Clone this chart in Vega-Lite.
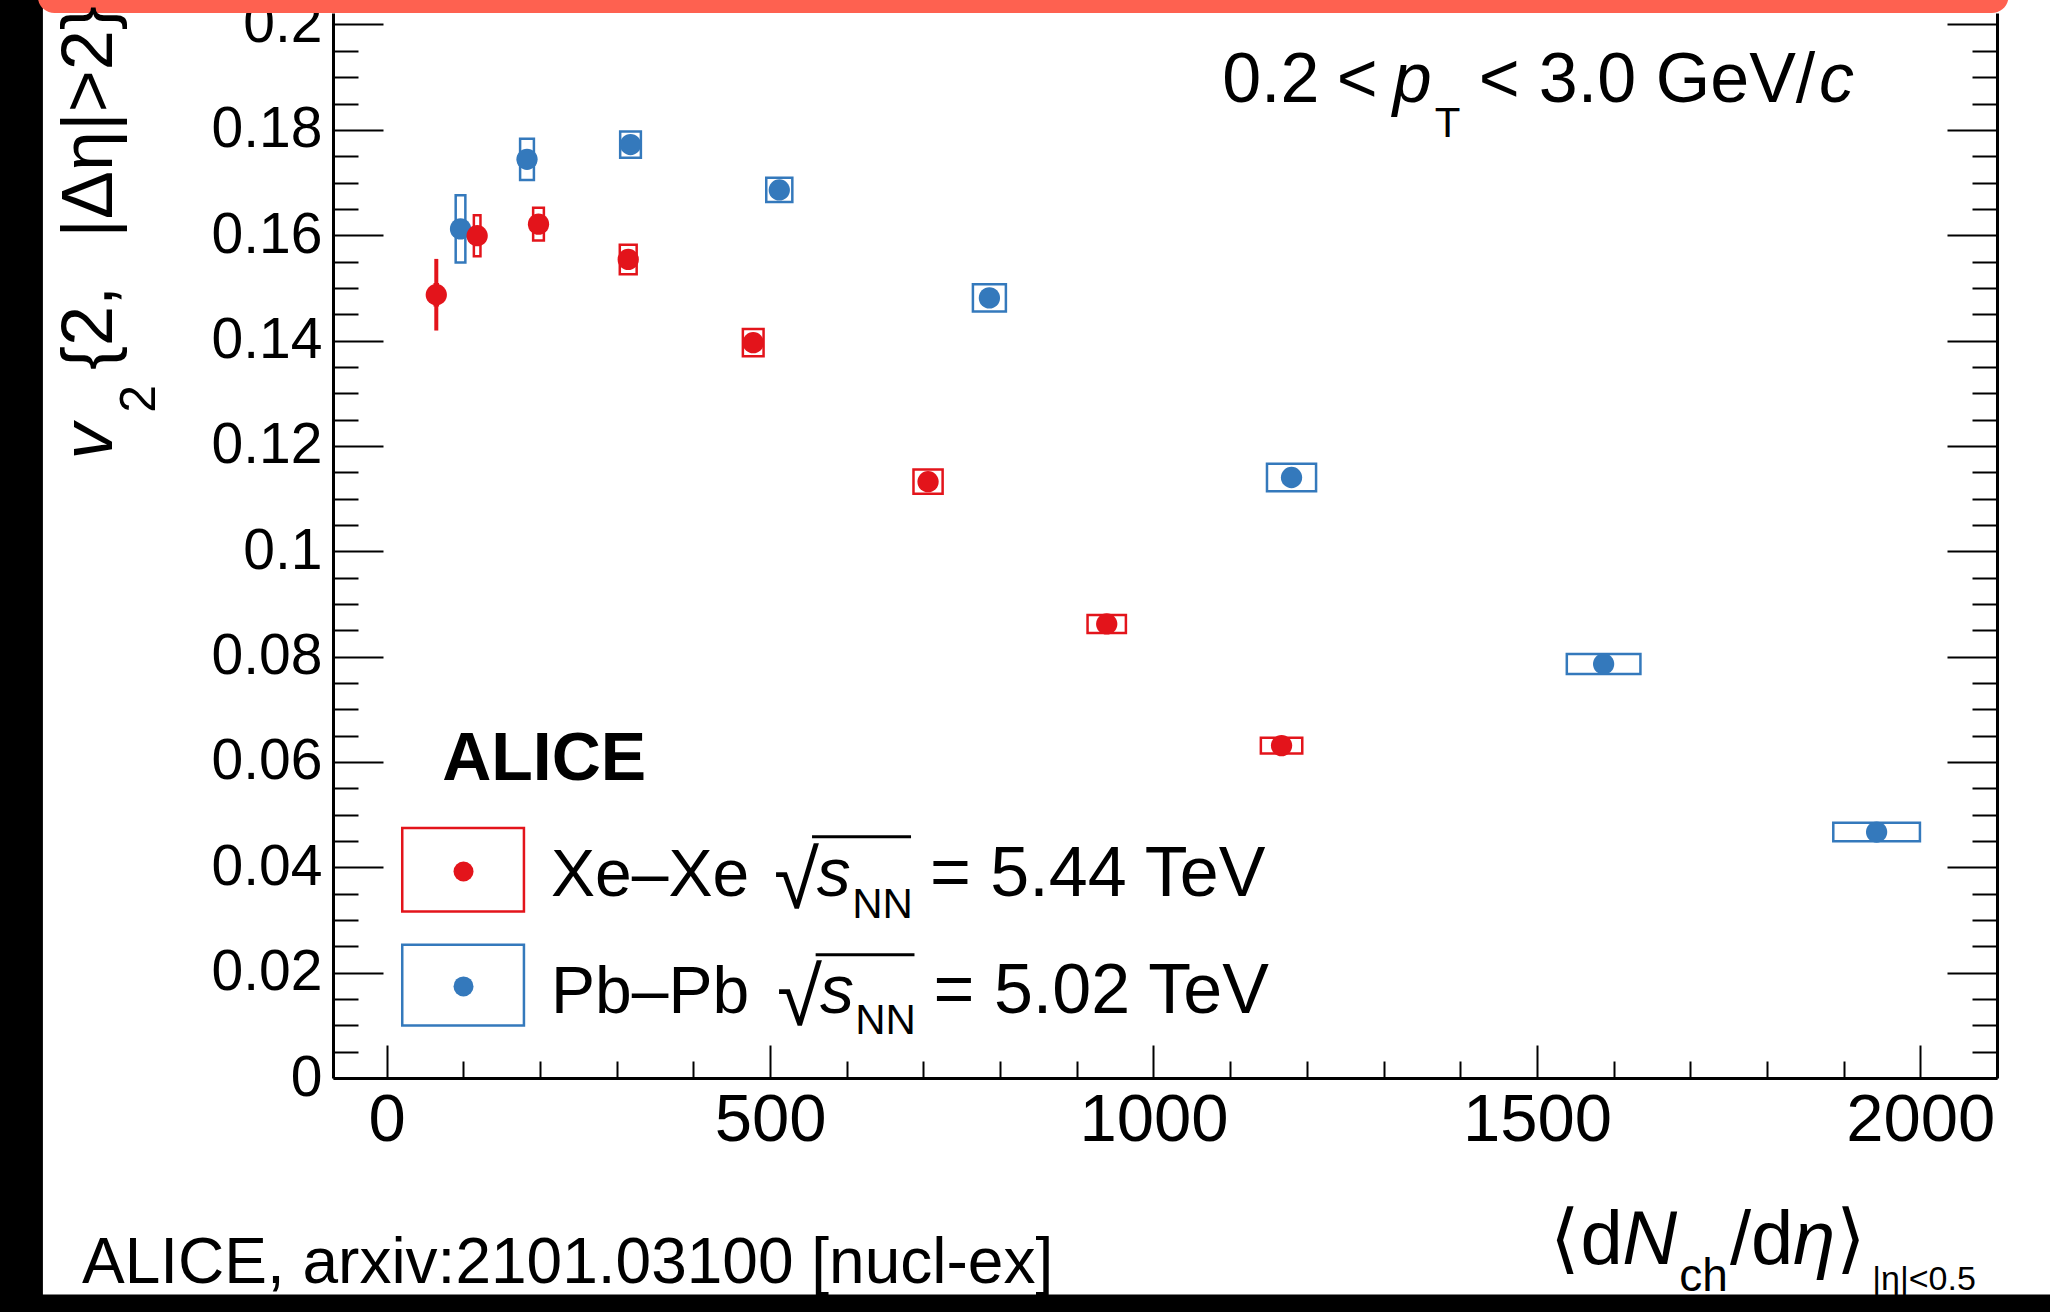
{
  "$schema": "https://vega.github.io/schema/vega-lite/v6.json",
  "width": 1664,
  "height": 1065,
  "autosize": {"type": "none"},
  "padding": {"left": 333, "top": 13, "right": 53, "bottom": 234},
  "background": "white",
  "config": {
    "view": {"stroke": null},
    "axis": {
      "zindex": 1, "grid": false, "domainColor": "black", "tickColor": "black",
      "labelColor": "black", "labelFont": "Liberation Sans", "tickWidth": 2, "domainWidth": 3
    },
    "text": {"font": "Liberation Sans", "color": "black", "align": "left", "baseline": "alphabetic", "clip": false}
  },
  "datasets": {
    "v2": [
      {"system": "Pb–Pb", "dNdeta": 96.3, "dNdeta_lo": 90.0, "dNdeta_hi": 102.6, "v2": 0.1612, "sys_lo": 0.1548, "sys_hi": 0.1676, "stat_lo": 0.1602, "stat_hi": 0.1622},
      {"system": "Pb–Pb", "dNdeta": 183, "dNdeta_lo": 174, "dNdeta_hi": 192, "v2": 0.1744, "sys_lo": 0.1705, "sys_hi": 0.1783, "stat_lo": 0.1734, "stat_hi": 0.1754},
      {"system": "Pb–Pb", "dNdeta": 318, "dNdeta_lo": 304.5, "dNdeta_hi": 331.5, "v2": 0.1772, "sys_lo": 0.1747, "sys_hi": 0.1797, "stat_lo": 0.1764, "stat_hi": 0.178},
      {"system": "Pb–Pb", "dNdeta": 512, "dNdeta_lo": 495, "dNdeta_hi": 529, "v2": 0.1686, "sys_lo": 0.1663, "sys_hi": 0.1709, "stat_lo": 0.168, "stat_hi": 0.1692},
      {"system": "Pb–Pb", "dNdeta": 786, "dNdeta_lo": 764.5, "dNdeta_hi": 807.5, "v2": 0.1481, "sys_lo": 0.1455, "sys_hi": 0.1507, "stat_lo": 0.1476, "stat_hi": 0.1486},
      {"system": "Pb–Pb", "dNdeta": 1180, "dNdeta_lo": 1148, "dNdeta_hi": 1212, "v2": 0.114, "sys_lo": 0.1114, "sys_hi": 0.1166, "stat_lo": 0.1135, "stat_hi": 0.1145},
      {"system": "Pb–Pb", "dNdeta": 1587, "dNdeta_lo": 1539, "dNdeta_hi": 1635, "v2": 0.0786, "sys_lo": 0.0767, "sys_hi": 0.0805, "stat_lo": 0.0781, "stat_hi": 0.0791},
      {"system": "Pb–Pb", "dNdeta": 1943, "dNdeta_lo": 1886.5, "dNdeta_hi": 1999.5, "v2": 0.0467, "sys_lo": 0.04495, "sys_hi": 0.04845, "stat_lo": 0.0462, "stat_hi": 0.0472},
      {"system": "Xe–Xe", "dNdeta": 64.7, "dNdeta_lo": 62.7, "dNdeta_hi": 66.7, "v2": 0.1487, "sys_lo": 0.1467, "sys_hi": 0.1507, "stat_lo": 0.1419, "stat_hi": 0.1555},
      {"system": "Xe–Xe", "dNdeta": 118, "dNdeta_lo": 113.7, "dNdeta_hi": 122.3, "v2": 0.1599, "sys_lo": 0.156, "sys_hi": 0.1638, "stat_lo": 0.1584, "stat_hi": 0.1614},
      {"system": "Xe–Xe", "dNdeta": 198, "dNdeta_lo": 191, "dNdeta_hi": 205, "v2": 0.1621, "sys_lo": 0.159, "sys_hi": 0.1652, "stat_lo": 0.1609, "stat_hi": 0.1633},
      {"system": "Xe–Xe", "dNdeta": 315, "dNdeta_lo": 304, "dNdeta_hi": 326, "v2": 0.1554, "sys_lo": 0.1526, "sys_hi": 0.1582, "stat_lo": 0.1544, "stat_hi": 0.1564},
      {"system": "Xe–Xe", "dNdeta": 478, "dNdeta_lo": 464.5, "dNdeta_hi": 491.5, "v2": 0.1396, "sys_lo": 0.137, "sys_hi": 0.1422, "stat_lo": 0.1388, "stat_hi": 0.1404},
      {"system": "Xe–Xe", "dNdeta": 706, "dNdeta_lo": 687, "dNdeta_hi": 725, "v2": 0.1132, "sys_lo": 0.1109, "sys_hi": 0.1155, "stat_lo": 0.1125, "stat_hi": 0.1139},
      {"system": "Xe–Xe", "dNdeta": 939, "dNdeta_lo": 914, "dNdeta_hi": 964, "v2": 0.0862, "sys_lo": 0.0845, "sys_hi": 0.0879, "stat_lo": 0.0856, "stat_hi": 0.0868},
      {"system": "Xe–Xe", "dNdeta": 1167, "dNdeta_lo": 1140, "dNdeta_hi": 1194, "v2": 0.0631, "sys_lo": 0.0616, "sys_hi": 0.0646, "stat_lo": 0.0625, "stat_hi": 0.0637}
    ],
    "one": [{}]
  },
  "data": {"name": "v2"},
  "resolve": {"axis": {"x": "independent", "y": "independent"}},
  "layer": [
    {
      "data": {"name": "one"},
      "mark": {"type": "rect", "color": "black", "clip": false},
      "encoding": {
        "x": {"datum": -540, "type": "quantitative", "scale": {"domain": [-70, 2100], "nice": false, "zero": false}, "axis": null},
        "x2": {"datum": -448.3},
        "y": {"datum": -0.06, "type": "quantitative", "scale": {"domain": [0, 0.202183], "nice": false, "zero": false}, "axis": null},
        "y2": {"datum": 0.215}
      }
    },
    {
      "data": {"name": "one"},
      "mark": {"type": "rect", "color": "black", "clip": false},
      "encoding": {
        "x": {"datum": -540, "type": "quantitative", "axis": null},
        "x2": {"datum": 2200},
        "y": {"datum": -0.0411, "type": "quantitative", "axis": null},
        "y2": {"datum": -0.06}
      }
    },
    {
      "data": {"name": "one"},
      "mark": {"type": "rect", "color": "#FE6150", "cornerRadius": 28, "clip": false},
      "encoding": {
        "x": {"datum": -455, "type": "quantitative", "axis": null},
        "x2": {"datum": 2115},
        "y": {"datum": 0.2085, "type": "quantitative", "axis": null},
        "y2": {"datum": 0.202183}
      }
    },
    {
      "mark": {"type": "rect", "filled": false, "strokeWidth": 2.5},
      "encoding": {
        "x": {"field": "dNdeta_lo", "type": "quantitative",
              "axis": {"orient": "bottom", "values": [0, 500, 1000, 1500, 2000], "format": "d", "tickSize": -33, "labelPadding": 42, "labelFontSize": 67, "title": null}},
        "x2": {"field": "dNdeta_hi"},
        "y": {"field": "sys_lo", "type": "quantitative",
              "axis": {"orient": "left", "values": [0, 0.02, 0.04, 0.06, 0.08, 0.1, 0.12, 0.14, 0.16, 0.18, 0.2], "format": ".2~f", "tickSize": -50, "labelPadding": 61, "labelFontSize": 57, "title": null}},
        "y2": {"field": "sys_hi"},
        "color": {"field": "system", "type": "nominal", "scale": {"domain": ["Xe–Xe", "Pb–Pb"], "range": ["#E3141B", "#3479BC"]}, "legend": null}
      }
    },
    {
      "mark": {"type": "rule", "strokeWidth": 4},
      "encoding": {
        "x": {"field": "dNdeta", "type": "quantitative",
              "axis": {"orient": "bottom", "values": [100, 200, 300, 400, 600, 700, 800, 900, 1100, 1200, 1300, 1400, 1600, 1700, 1800, 1900], "tickSize": -17, "labels": false, "domain": false, "title": null}},
        "y": {"field": "stat_lo", "type": "quantitative",
              "axis": {"orient": "left", "values": [0.005, 0.01, 0.015, 0.025, 0.03, 0.035, 0.045, 0.05, 0.055, 0.065, 0.07, 0.075, 0.085, 0.09, 0.095, 0.105, 0.11, 0.115, 0.125, 0.13, 0.135, 0.145, 0.15, 0.155, 0.165, 0.17, 0.175, 0.185, 0.19, 0.195], "tickSize": -25, "labels": false, "domain": false, "title": null}},
        "y2": {"field": "stat_hi"},
        "color": {"field": "system", "type": "nominal", "legend": null}
      }
    },
    {
      "mark": {"type": "circle", "size": 452, "opacity": 1},
      "encoding": {
        "x": {"field": "dNdeta", "type": "quantitative", "axis": null},
        "y": {"field": "v2", "type": "quantitative",
              "axis": {"orient": "right", "values": [0, 0.02, 0.04, 0.06, 0.08, 0.1, 0.12, 0.14, 0.16, 0.18, 0.2], "tickSize": -50, "labels": false, "domain": true, "title": null}},
        "color": {"field": "system", "type": "nominal", "legend": null}
      }
    },
    {
      "data": {"name": "one"},
      "mark": {"type": "rect", "filled": false, "stroke": "#E3141B", "strokeWidth": 2.5, "clip": false},
      "encoding": {
        "x": {"datum": 20.3, "type": "quantitative", "axis": null},
        "x2": {"datum": 179},
        "y": {"datum": 0.04745, "type": "quantitative",
              "axis": {"orient": "right", "values": [0.005, 0.01, 0.015, 0.025, 0.03, 0.035, 0.045, 0.05, 0.055, 0.065, 0.07, 0.075, 0.085, 0.09, 0.095, 0.105, 0.11, 0.115, 0.125, 0.13, 0.135, 0.145, 0.15, 0.155, 0.165, 0.17, 0.175, 0.185, 0.19, 0.195], "tickSize": -25, "labels": false, "domain": false, "title": null}},
        "y2": {"datum": 0.03162}
      }
    },
    {
      "data": {"name": "one"},
      "mark": {"type": "rect", "filled": false, "stroke": "#3479BC", "strokeWidth": 2.5, "clip": false},
      "encoding": {
        "x": {"datum": 20.3, "type": "quantitative", "axis": null},
        "x2": {"datum": 179},
        "y": {"datum": 0.0253, "type": "quantitative", "axis": null},
        "y2": {"datum": 0.00999}
      }
    },
    {
      "data": {"name": "one"},
      "mark": {"type": "circle", "size": 400, "opacity": 1, "color": "#E3141B"},
      "encoding": {
        "x": {"datum": 100.2, "type": "quantitative", "axis": null},
        "y": {"datum": 0.0392, "type": "quantitative", "axis": null}
      }
    },
    {
      "data": {"name": "one"},
      "mark": {"type": "circle", "size": 400, "opacity": 1, "color": "#3479BC"},
      "encoding": {
        "x": {"datum": 100.2, "type": "quantitative", "axis": null},
        "y": {"datum": 0.01739, "type": "quantitative", "axis": null}
      }
    },
    {
      "data": {"name": "one"},
      "mark": {"type": "text", "fontSize": 68, "fontWeight": "bold"},
      "encoding": {"text": {"value": "ALICE"}, "x": {"datum": 72.4, "type": "quantitative", "axis": null}, "y": {"datum": 0.0566, "type": "quantitative", "axis": null}}
    },
    {
      "data": {"name": "one"},
      "mark": {"type": "text", "fontSize": 66},
      "encoding": {"text": {"value": "Xe–Xe"}, "x": {"datum": 214.3, "type": "quantitative", "axis": null}, "y": {"datum": 0.03447, "type": "quantitative", "axis": null}}
    },
    {
      "data": {"name": "one"},
      "mark": {"type": "text", "fontSize": 66},
      "encoding": {"text": {"value": "Pb–Pb"}, "x": {"datum": 214.3, "type": "quantitative", "axis": null}, "y": {"datum": 0.01234, "type": "quantitative", "axis": null}}
    },
    {
      "data": {"name": "one"},
      "mark": {"type": "text", "fontSize": 82},
      "encoding": {"text": {"value": "√"}, "x": {"datum": 505, "type": "quantitative", "axis": null}, "y": {"datum": 0.0322, "type": "quantitative", "axis": null}}
    },
    {
      "data": {"name": "one"},
      "mark": {"type": "text", "fontSize": 82},
      "encoding": {"text": {"value": "√"}, "x": {"datum": 509, "type": "quantitative", "axis": null}, "y": {"datum": 0.0100, "type": "quantitative", "axis": null}}
    },
    {
      "data": {"name": "one"},
      "mark": {"type": "rule", "strokeWidth": 3, "color": "black", "clip": false},
      "encoding": {"x": {"datum": 554.7, "type": "quantitative", "axis": null}, "x2": {"datum": 683.8}, "y": {"datum": 0.0458, "type": "quantitative", "axis": null}}
    },
    {
      "data": {"name": "one"},
      "mark": {"type": "rule", "strokeWidth": 3, "color": "black", "clip": false},
      "encoding": {"x": {"datum": 559.4, "type": "quantitative", "axis": null}, "x2": {"datum": 688.3}, "y": {"datum": 0.0234, "type": "quantitative", "axis": null}}
    },
    {
      "data": {"name": "one"},
      "mark": {"type": "text", "fontSize": 68, "fontStyle": "italic"},
      "encoding": {"text": {"value": "s"}, "x": {"datum": 561, "type": "quantitative", "axis": null}, "y": {"datum": 0.03447, "type": "quantitative", "axis": null}}
    },
    {
      "data": {"name": "one"},
      "mark": {"type": "text", "fontSize": 68, "fontStyle": "italic"},
      "encoding": {"text": {"value": "s"}, "x": {"datum": 565, "type": "quantitative", "axis": null}, "y": {"datum": 0.01234, "type": "quantitative", "axis": null}}
    },
    {
      "data": {"name": "one"},
      "mark": {"type": "text", "fontSize": 42},
      "encoding": {"text": {"value": "NN"}, "x": {"datum": 607, "type": "quantitative", "axis": null}, "y": {"datum": 0.03042, "type": "quantitative", "axis": null}}
    },
    {
      "data": {"name": "one"},
      "mark": {"type": "text", "fontSize": 42},
      "encoding": {"text": {"value": "NN"}, "x": {"datum": 611, "type": "quantitative", "axis": null}, "y": {"datum": 0.0083, "type": "quantitative", "axis": null}}
    },
    {
      "data": {"name": "one"},
      "mark": {"type": "text", "fontSize": 70},
      "encoding": {"text": {"value": "= 5.44 TeV"}, "x": {"datum": 708.6, "type": "quantitative", "axis": null}, "y": {"datum": 0.03447, "type": "quantitative", "axis": null}}
    },
    {
      "data": {"name": "one"},
      "mark": {"type": "text", "fontSize": 70},
      "encoding": {"text": {"value": "= 5.02 TeV"}, "x": {"datum": 713.2, "type": "quantitative", "axis": null}, "y": {"datum": 0.01234, "type": "quantitative", "axis": null}}
    },
    {
      "data": {"name": "one"},
      "mark": {"type": "text", "fontSize": 70},
      "encoding": {"text": {"value": "0.2"}, "x": {"datum": 1089.5, "type": "quantitative", "axis": null}, "y": {"datum": 0.1853, "type": "quantitative", "axis": null}}
    },
    {
      "data": {"name": "one"},
      "mark": {"type": "text", "fontSize": 70},
      "encoding": {"text": {"value": "<"}, "x": {"datum": 1238.9, "type": "quantitative", "axis": null}, "y": {"datum": 0.1853, "type": "quantitative", "axis": null}}
    },
    {
      "data": {"name": "one"},
      "mark": {"type": "text", "fontSize": 70, "fontStyle": "italic"},
      "encoding": {"text": {"value": "p"}, "x": {"datum": 1311.9, "type": "quantitative", "axis": null}, "y": {"datum": 0.1853, "type": "quantitative", "axis": null}}
    },
    {
      "data": {"name": "one"},
      "mark": {"type": "text", "fontSize": 42},
      "encoding": {"text": {"value": "T"}, "x": {"datum": 1366.7, "type": "quantitative", "axis": null}, "y": {"datum": 0.1786, "type": "quantitative", "axis": null}}
    },
    {
      "data": {"name": "one"},
      "mark": {"type": "text", "fontSize": 70},
      "encoding": {"text": {"value": "<"}, "x": {"datum": 1424.1, "type": "quantitative", "axis": null}, "y": {"datum": 0.1853, "type": "quantitative", "axis": null}}
    },
    {
      "data": {"name": "one"},
      "mark": {"type": "text", "fontSize": 70},
      "encoding": {"text": {"value": "3.0"}, "x": {"datum": 1502.4, "type": "quantitative", "axis": null}, "y": {"datum": 0.1853, "type": "quantitative", "axis": null}}
    },
    {
      "data": {"name": "one"},
      "mark": {"type": "text", "fontSize": 70},
      "encoding": {"text": {"value": "GeV/"}, "x": {"datum": 1655, "type": "quantitative", "axis": null}, "y": {"datum": 0.1853, "type": "quantitative", "axis": null}}
    },
    {
      "data": {"name": "one"},
      "mark": {"type": "text", "fontSize": 70, "fontStyle": "italic"},
      "encoding": {"text": {"value": "c"}, "x": {"datum": 1868, "type": "quantitative", "axis": null}, "y": {"datum": 0.1853, "type": "quantitative", "axis": null}}
    },
    {
      "data": {"name": "one"},
      "mark": {"type": "text", "fontSize": 72, "fontStyle": "italic", "angle": 270},
      "encoding": {"text": {"value": "v"}, "x": {"datum": -358, "type": "quantitative", "axis": null}, "y": {"datum": 0.1174, "type": "quantitative", "axis": null}}
    },
    {
      "data": {"name": "one"},
      "mark": {"type": "text", "fontSize": 50, "angle": 270},
      "encoding": {"text": {"value": "2"}, "x": {"datum": -302, "type": "quantitative", "axis": null}, "y": {"datum": 0.1263, "type": "quantitative", "axis": null}}
    },
    {
      "data": {"name": "one"},
      "mark": {"type": "text", "fontSize": 72, "angle": 270},
      "encoding": {"text": {"value": "{2,"}, "x": {"datum": -358, "type": "quantitative", "axis": null}, "y": {"datum": 0.1344, "type": "quantitative", "axis": null}}
    },
    {
      "data": {"name": "one"},
      "mark": {"type": "text", "fontSize": 72, "angle": 270},
      "encoding": {"text": {"value": "|Δη|>2}"}, "x": {"datum": -358, "type": "quantitative", "axis": null}, "y": {"datum": 0.1595, "type": "quantitative", "axis": null}}
    },
    {
      "data": {"name": "one"},
      "mark": {"type": "text", "fontSize": 76},
      "encoding": {"text": {"value": "⟨d"}, "x": {"datum": 1517.6, "type": "quantitative", "axis": null}, "y": {"datum": -0.0354, "type": "quantitative", "axis": null}}
    },
    {
      "data": {"name": "one"},
      "mark": {"type": "text", "fontSize": 76, "fontStyle": "italic"},
      "encoding": {"text": {"value": "N"}, "x": {"datum": 1611.2, "type": "quantitative", "axis": null}, "y": {"datum": -0.0354, "type": "quantitative", "axis": null}}
    },
    {
      "data": {"name": "one"},
      "mark": {"type": "text", "fontSize": 46},
      "encoding": {"text": {"value": "ch"}, "x": {"datum": 1685.6, "type": "quantitative", "axis": null}, "y": {"datum": -0.0404, "type": "quantitative", "axis": null}}
    },
    {
      "data": {"name": "one"},
      "mark": {"type": "text", "fontSize": 76},
      "encoding": {"text": {"value": "/d"}, "x": {"datum": 1751.7, "type": "quantitative", "axis": null}, "y": {"datum": -0.0354, "type": "quantitative", "axis": null}}
    },
    {
      "data": {"name": "one"},
      "mark": {"type": "text", "fontSize": 76, "fontStyle": "italic"},
      "encoding": {"text": {"value": "η"}, "x": {"datum": 1833.9, "type": "quantitative", "axis": null}, "y": {"datum": -0.0354, "type": "quantitative", "axis": null}}
    },
    {
      "data": {"name": "one"},
      "mark": {"type": "text", "fontSize": 76},
      "encoding": {"text": {"value": "⟩"}, "x": {"datum": 1890.3, "type": "quantitative", "axis": null}, "y": {"datum": -0.0354, "type": "quantitative", "axis": null}}
    },
    {
      "data": {"name": "one"},
      "mark": {"type": "text", "fontSize": 34},
      "encoding": {"text": {"value": "|η|<0.5"}, "x": {"datum": 1937.2, "type": "quantitative", "axis": null}, "y": {"datum": -0.0402, "type": "quantitative", "axis": null}}
    },
    {
      "data": {"name": "one"},
      "mark": {"type": "text", "fontSize": 64},
      "encoding": {"text": {"value": "ALICE, arxiv:2101.03100 [nucl-ex]"}, "x": {"datum": -397.4, "type": "quantitative", "axis": null}, "y": {"datum": -0.03886, "type": "quantitative", "axis": null}}
    }
  ]
}
